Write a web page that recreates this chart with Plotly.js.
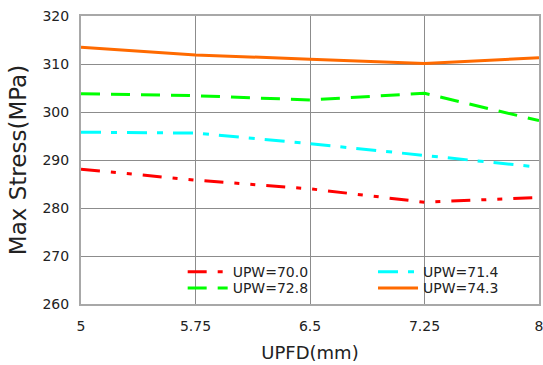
<!DOCTYPE html>
<html>
<head>
<meta charset="utf-8">
<script src="https://cdn.plot.ly/plotly-3.0.1.min.js"></script>
<style>html,body{margin:0;padding:0;background:#fff;}#chart{width:543px;height:365px;}</style>
</head>
<body>
<div id="chart"></div>
<script>
var upfd = [5, 5.75, 6.5, 7.25, 8];
var xTickLabels = ['5', '5.75', '6.5', '7.25', '8'];
var yTicks = [260, 270, 280, 290, 300, 310, 320];
var seriesNames = ['UPW=70.0', 'UPW=71.4', 'UPW=72.8', 'UPW=74.3'];
var upw700 = [288.1, 285.8, 284.0, 281.2, 282.2];
var upw714 = [295.8, 295.6, 293.4, 291.0, 288.5];
var upw728 = [303.8, 303.4, 302.5, 303.9, 298.2];
var upw743 = [313.5, 311.9, 311.0, 310.1, 311.3];

var colors = ['#ff0000', '#00ffff', '#00ff00', '#ff6a00'];
var dashes = ['19px,11px,5px,11px,5px,11px', '20px,10px,6px,10px', '19px,11px', 'solid'];
var legendIds = ['legend', 'legend2', 'legend3', 'legend4'];
var values = [upw700, upw714, upw728, upw743];

var traces = values.map(function (v, i) {
  return {
    x: upfd, y: v, name: seriesNames[i], type: 'scatter', mode: 'lines',
    legend: legendIds[i],
    line: {color: colors[i], width: 3, dash: dashes[i]}
  };
});

var font = 'DejaVu Sans, sans-serif';
function legendCfg(x, y) {
  return {
    orientation: 'v', x: x, xanchor: 'left', y: y, yanchor: 'top',
    itemwidth: 40, bgcolor: 'rgba(0,0,0,0)',
    font: {family: font, size: 14, color: '#222'}
  };
}
var layout = {
  width: 543, height: 365,
  margin: {l: 81, r: 4, t: 16, b: 61},
  paper_bgcolor: '#fff', plot_bgcolor: '#fff',
  font: {family: font, color: '#222', size: 14},
  showlegend: true,
  legend: legendCfg(0.222, 0.166),
  legend2: legendCfg(0.6376, 0.166),
  legend3: legendCfg(0.222, 0.110),
  legend4: legendCfg(0.6376, 0.110),
  xaxis: {
    range: [5, 8], tickvals: upfd, ticktext: xTickLabels,
    showgrid: true, gridcolor: '#8c8c8c', gridwidth: 1,
    showline: true, linecolor: '#a8a8a8', linewidth: 2, mirror: true,
    ticks: '', zeroline: false, tickfont: {size: 14}, ticklabelstandoff: 8,
    ticklabeloverflow: 'allow',
    title: {text: 'UPFD(mm)', font: {size: 18}, standoff: 14}
  },
  yaxis: {
    range: [260, 320], tickvals: yTicks,
    showgrid: true, gridcolor: '#8c8c8c', gridwidth: 1,
    showline: true, linecolor: '#a8a8a8', linewidth: 2, mirror: true,
    ticks: '', zeroline: false, tickfont: {size: 14}, ticklabelstandoff: 7,
    title: {text: 'Max Stress(MPa)', font: {size: 23}, standoff: 9}
  }
};
Plotly.newPlot('chart', traces, layout, {displayModeBar: false, staticPlot: true});
</script>
</body>
</html>
